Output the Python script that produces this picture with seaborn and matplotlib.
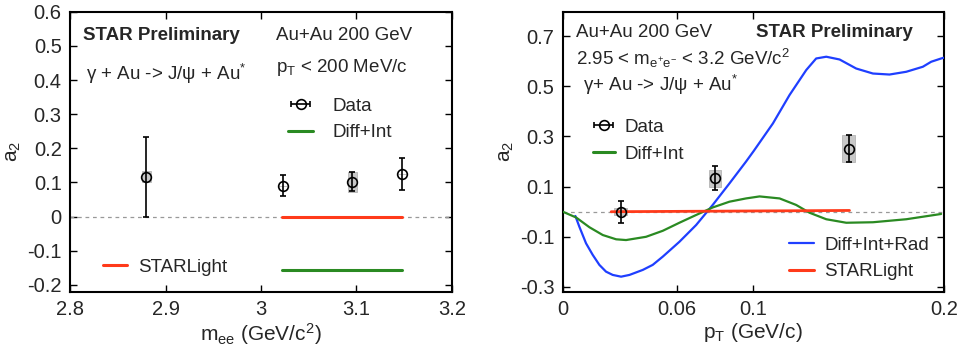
import numpy as np
import pandas as pd
import matplotlib
matplotlib.use("Agg")
import matplotlib.pyplot as plt
import seaborn as sns

# left panel: a2 vs invariant mass
mee = [2.88, 3.0226, 3.0957, 3.148]
a2_mee = [0.117, 0.091, 0.102, 0.125]
a2_mee_err = [0.117, 0.032, 0.028, 0.046]
a2_mee_sys = [0.016, 0.0, 0.03, 0.0]
mee_model = [3.022, 3.148]
starlight_mee = [0.0, 0.0]
diffint_mee = [-0.158, -0.158]

# right panel: a2 vs pT
pt = [0.0303, 0.080, 0.150]
a2_pt = [0.0, 0.133, 0.252]
a2_pt_err = [0.043, 0.048, 0.054]
a2_pt_sys = [0.015, 0.035, 0.055]

pt_rad = [0.0066, 0.0087, 0.0122, 0.0157, 0.0192, 0.0227, 0.0262, 0.0306, 0.035, 0.042,
          0.0472, 0.0525, 0.0612, 0.07, 0.0787, 0.0875, 0.0962, 0.1003, 0.1103, 0.119,
          0.1278, 0.133, 0.1383, 0.1453, 0.154, 0.1628, 0.1715, 0.1803, 0.189, 0.1934,
          0.1986, 0.2]
a2_rad = [-0.017, -0.06, -0.126, -0.172, -0.212, -0.239, -0.252, -0.259, -0.252, -0.232,
          -0.212, -0.179, -0.12, -0.053, 0.027, 0.113, 0.2, 0.243, 0.352, 0.465,
          0.565, 0.611, 0.618, 0.607, 0.571, 0.551, 0.547, 0.558, 0.578, 0.598,
          0.611, 0.614]

pt_diff = [0.0, 0.007, 0.014, 0.021, 0.028, 0.0332, 0.0437, 0.0525, 0.0612, 0.07,
           0.0787, 0.0875, 0.0962, 0.1033, 0.1138, 0.1225, 0.1295, 0.1383, 0.1488, 0.1628,
           0.1803, 0.1986]
a2_diff = [0.0, -0.023, -0.062, -0.093, -0.11, -0.113, -0.1, -0.076, -0.044, -0.013,
           0.017, 0.04, 0.053, 0.061, 0.053, 0.027, -0.004, -0.03, -0.044, -0.042,
           -0.03, -0.009]

pt_star = [0.0254, 0.1505]
a2_star = [0.0, 0.005]

BLUE = "#1f3fff"
GREEN = "#2a8a22"
RED = "#ff3a1a"

sns.set_theme(style="ticks")
plt.rcParams['font.family'] = ['Liberation Sans', 'DejaVu Sans']
plt.rcParams['mathtext.default'] = 'regular'

FS = 13.5

fig = plt.figure(figsize=(9.67, 3.48), dpi=100)
ax1 = fig.add_axes([0.0724, 0.161, 0.395, 0.805])
ax2 = fig.add_axes([0.582, 0.161, 0.394, 0.805])


def style_axes(ax):
    ax.tick_params(direction='in', top=True, right=True, length=5, width=1,
                   labelsize=14.5, pad=6, color='black')
    for s in ax.spines.values():
        s.set_linewidth(1.5)
        s.set_color('black')
    ax.axhline(0, color='#999999', lw=0.9, ls=(0, (3, 3)), zorder=1)


def data_points(ax, x, y, err, sys_err, width):
    ax.bar(x, height=2 * np.array(sys_err), bottom=np.array(y) - np.array(sys_err),
           width=width, color='#c8c8c8', edgecolor='#aaaaaa', lw=0.5, zorder=2)
    ax.errorbar(x, y, yerr=err, fmt='o', ms=7, mfc='none', mec='black', mew=1.2,
                ecolor='black', elinewidth=1.2, capsize=2.5, capthick=1.2, zorder=4)


def data_handle(ax):
    return ax.errorbar([np.nan], [np.nan], xerr=[1], fmt='o', ms=7, mfc='none',
                       mec='black', mew=1.2, ecolor='black', elinewidth=1.2,
                       capsize=2.5, capthick=1.2)


# ---------------- left panel ----------------
style_axes(ax1)
data_points(ax1, mee, a2_mee, a2_mee_err, a2_mee_sys, 0.0094)
df_l = pd.DataFrame({'m': mee_model, 'star': starlight_mee, 'diff': diffint_mee})
sns.lineplot(data=df_l, x='m', y='star', color=RED, lw=2.2, ax=ax1, zorder=3)
sns.lineplot(data=df_l, x='m', y='diff', color=GREEN, lw=2.2, ax=ax1, zorder=3)
ax1.set_xlim(2.8, 3.2)
ax1.set_ylim(-0.221, 0.6)
ax1.set_xticks([2.8, 2.9, 3.0, 3.1, 3.2])
ax1.set_xticklabels(['2.8', '2.9', '3', '3.1', '3.2'])
ax1.set_yticks([-0.2, -0.1, 0, 0.1, 0.2, 0.3, 0.4, 0.5, 0.6])
ax1.set_yticklabels(['-0.2', '-0.1', '0', '0.1', '0.2', '0.3', '0.4', '0.5', '0.6'])
ax1.set_xlabel('$m_{ee}$ (GeV/c$^2$)', fontsize=15, labelpad=1)
ax1.set_ylabel('$a_2$', fontsize=15, labelpad=3)

ax1.text(0.033, 0.917, 'STAR Preliminary', transform=ax1.transAxes, fontsize=FS,
         fontweight='bold', va='center')
ax1.text(0.042, 0.78, 'γ + Au -> J/ψ + Au$^{*}$', transform=ax1.transAxes,
         fontsize=FS, va='center')
ax1.text(0.539, 0.917, 'Au+Au 200 GeV', transform=ax1.transAxes, fontsize=FS,
         va='center')
ax1.text(0.539, 0.80, '$p_T$ < 200 MeV/c', transform=ax1.transAxes, fontsize=FS,
         va='center')

h_data = data_handle(ax1)
h_green = plt.Line2D([], [], color=GREEN, lw=2.2)
h_red = plt.Line2D([], [], color=RED, lw=2.2)
leg1 = ax1.legend([h_data, h_green], ['Data', 'Diff+Int'], loc='center left',
                  bbox_to_anchor=(0.527, 0.615), frameon=False, fontsize=FS,
                  handlelength=1.35, handletextpad=1.0, labelspacing=0.5)
ax1.add_artist(leg1)
ax1.legend([h_red], ['STARLight'], loc='center left', bbox_to_anchor=(0.041, 0.089),
           frameon=False, fontsize=FS, handlelength=1.3, handletextpad=0.6)

# ---------------- right panel ----------------
style_axes(ax2)
data_points(ax2, pt, a2_pt, a2_pt_err, a2_pt_sys, 0.0066)
df_rad = pd.DataFrame({'pt': pt_rad, 'a2': a2_rad})
df_diff = pd.DataFrame({'pt': pt_diff, 'a2': a2_diff})
df_star = pd.DataFrame({'pt': pt_star, 'a2': a2_star})
sns.lineplot(data=df_rad, x='pt', y='a2', color=BLUE, lw=1.6, ax=ax2, zorder=3)
sns.lineplot(data=df_diff, x='pt', y='a2', color=GREEN, lw=1.6, ax=ax2, zorder=3)
sns.lineplot(data=df_star, x='pt', y='a2', color=RED, lw=2.0, ax=ax2, zorder=3)
ax2.set_xlim(0, 0.2)
ax2.set_ylim(-0.32, 0.797)
ax2.set_xticks([0, 0.06, 0.1, 0.2])
ax2.set_xticklabels(['0', '0.06', '0.1', '0.2'])
ax2.set_yticks([-0.3, -0.1, 0.1, 0.3, 0.5, 0.7])
ax2.set_yticklabels(['-0.3', '-0.1', '0.1', '0.3', '0.5', '0.7'])
ax2.set_xlabel('$p_T$ (GeV/c)', fontsize=15, labelpad=1)
ax2.set_ylabel('$a_2$', fontsize=15, labelpad=3)

ax2.text(0.035, 0.926, 'Au+Au 200 GeV', transform=ax2.transAxes, fontsize=FS,
         va='center')
ax2.text(0.506, 0.926, 'STAR Preliminary', transform=ax2.transAxes, fontsize=FS,
         fontweight='bold', va='center')
ax2.text(0.035, 0.833, '2.95 < $m_{e^{+}e^{-}}$ < 3.2 GeV/c$^{2}$',
         transform=ax2.transAxes, fontsize=FS, va='center')
ax2.text(0.052, 0.738, 'γ+ Au -> J/ψ + Au$^{*}$', transform=ax2.transAxes,
         fontsize=FS, va='center')

h_data2 = data_handle(ax2)
h_blue = plt.Line2D([], [], color=BLUE, lw=1.6)
leg2 = ax2.legend([h_data2, h_green], ['Data', 'Diff+Int'], loc='center left',
                  bbox_to_anchor=(0.034, 0.54), frameon=False, fontsize=FS,
                  handlelength=1.2, handletextpad=0.5, labelspacing=0.5)
ax2.add_artist(leg2)
ax2.legend([h_blue, h_red], ['Diff+Int+Rad', 'STARLight'], loc='center left',
           bbox_to_anchor=(0.549, 0.12), frameon=False, fontsize=FS,
           handlelength=1.35, handletextpad=0.55, labelspacing=0.5)

fig.savefig('out.png', dpi=100)
